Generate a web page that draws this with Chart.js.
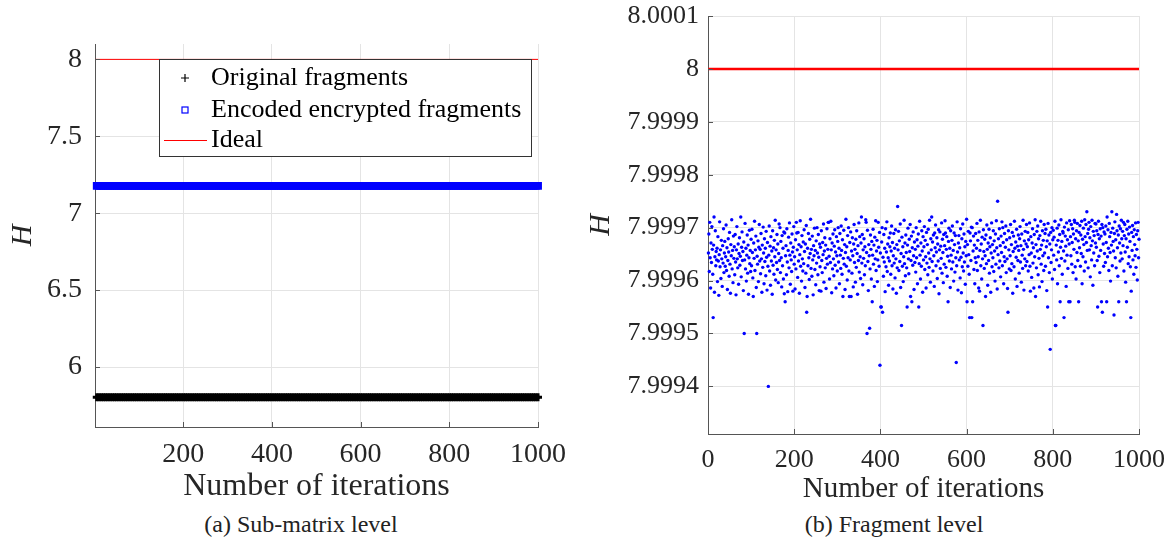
<!DOCTYPE html>
<html><head><meta charset="utf-8">
<script src="https://cdn.jsdelivr.net/npm/chart.js@4.4.1/dist/chart.umd.min.js"></script>
<style>
body{margin:0;background:#fff;width:1172px;height:545px;position:relative;overflow:hidden;font-family:"Liberation Serif","Times New Roman",serif}
canvas{position:absolute;top:0}
#ca{left:0}
#cb{left:580px}
.cap{position:absolute;top:512px;line-height:24px;font-size:24px;color:#222;transform:translateX(-50%);white-space:nowrap}
</style></head><body>
<canvas id="ca" width="580" height="510"></canvas>
<canvas id="cb" width="592" height="510"></canvas>
<div class="cap" style="left:301px">(a) Sub-matrix level</div>
<div class="cap" style="left:894px">(b) Fragment level</div>
<script>
const SERIF='"Liberation Serif","Times New Roman",serif';

// axis ticks
const xTicksA=[200,400,600,800,1000];
const yTicksA=[6,6.5,7,7.5,8], yLabelsA=['6','6.5','7','7.5','8'];
const xTicksB=[0,200,400,600,800,1000];
const yTicksB=[7.9994,7.9995,7.9996,7.9997,7.9998,7.9999,8,8.0001];
const yLabelsB=['7.9994','7.9995','7.9996','7.9997','7.9998','7.9999','8','8.0001'];

// (a) sub-matrix level, every 5th iteration
const sampleStep=5;
const origH=[
5.804,5.804,5.804,5.804,5.804,5.804,5.804,5.804,5.804,5.804,5.804,5.804,5.804,5.804,5.804,5.804,5.804,5.804,5.804,5.804,
5.804,5.804,5.804,5.804,5.804,5.804,5.804,5.804,5.804,5.804,5.804,5.804,5.804,5.804,5.804,5.804,5.804,5.804,5.804,5.804,
5.804,5.804,5.804,5.804,5.804,5.804,5.804,5.804,5.804,5.804,5.804,5.804,5.804,5.804,5.804,5.804,5.804,5.804,5.804,5.804,
5.804,5.804,5.804,5.804,5.804,5.804,5.804,5.804,5.804,5.804,5.804,5.804,5.804,5.804,5.804,5.804,5.804,5.804,5.804,5.804,
5.804,5.804,5.804,5.804,5.804,5.804,5.804,5.804,5.804,5.804,5.804,5.804,5.804,5.804,5.804,5.804,5.804,5.804,5.804,5.804,
5.804,5.804,5.804,5.804,5.804,5.804,5.804,5.804,5.804,5.804,5.804,5.804,5.804,5.804,5.804,5.804,5.804,5.804,5.804,5.804,
5.804,5.804,5.804,5.804,5.804,5.804,5.804,5.804,5.804,5.804,5.804,5.804,5.804,5.804,5.804,5.804,5.804,5.804,5.804,5.804,
5.804,5.804,5.804,5.804,5.804,5.804,5.804,5.804,5.804,5.804,5.804,5.804,5.804,5.804,5.804,5.804,5.804,5.804,5.804,5.804,
5.804,5.804,5.804,5.804,5.804,5.804,5.804,5.804,5.804,5.804,5.804,5.804,5.804,5.804,5.804,5.804,5.804,5.804,5.804,5.804,
5.804,5.804,5.804,5.804,5.804,5.804,5.804,5.804,5.804,5.804,5.804,5.804,5.804,5.804,5.804,5.804,5.804,5.804,5.804,5.804];
const encH=[
7.178,7.178,7.178,7.178,7.178,7.178,7.178,7.178,7.178,7.178,7.178,7.178,7.178,7.178,7.178,7.178,7.178,7.178,7.178,7.178,
7.178,7.178,7.178,7.178,7.178,7.178,7.178,7.178,7.178,7.178,7.178,7.178,7.178,7.178,7.178,7.178,7.178,7.178,7.178,7.178,
7.178,7.178,7.178,7.178,7.178,7.178,7.178,7.178,7.178,7.178,7.178,7.178,7.178,7.178,7.178,7.178,7.178,7.178,7.178,7.178,
7.178,7.178,7.178,7.178,7.178,7.178,7.178,7.178,7.178,7.178,7.178,7.178,7.178,7.178,7.178,7.178,7.178,7.178,7.178,7.178,
7.178,7.178,7.178,7.178,7.178,7.178,7.178,7.178,7.178,7.178,7.178,7.178,7.178,7.178,7.178,7.178,7.178,7.178,7.178,7.178,
7.178,7.178,7.178,7.178,7.178,7.178,7.178,7.178,7.178,7.178,7.178,7.178,7.178,7.178,7.178,7.178,7.178,7.178,7.178,7.178,
7.178,7.178,7.178,7.178,7.178,7.178,7.178,7.178,7.178,7.178,7.178,7.178,7.178,7.178,7.178,7.178,7.178,7.178,7.178,7.178,
7.178,7.178,7.178,7.178,7.178,7.178,7.178,7.178,7.178,7.178,7.178,7.178,7.178,7.178,7.178,7.178,7.178,7.178,7.178,7.178,
7.178,7.178,7.178,7.178,7.178,7.178,7.178,7.178,7.178,7.178,7.178,7.178,7.178,7.178,7.178,7.178,7.178,7.178,7.178,7.178,
7.178,7.178,7.178,7.178,7.178,7.178,7.178,7.178,7.178,7.178,7.178,7.178,7.178,7.178,7.178,7.178,7.178,7.178,7.178,7.178];
const idealIter=[1,1000], idealH=[8,8];

// (b) fragment level, iterations 1..1000
const fragH=[
7.999652,7.999688,7.999617,7.99971,7.999643,7.999586,7.999671,7.999634,7.999702,7.999659,7.999612,7.99953,7.999667,7.99972,7.999578,7.999645,7.999694,7.999628,7.999655,7.999639,
7.999661,7.999598,7.999683,7.999637,7.999572,7.999649,7.999711,7.999626,7.999658,7.999604,7.999676,7.999641,7.999589,7.999666,7.999633,7.999698,7.999615,7.999652,7.999674,7.999627,
7.999645,7.999705,7.999619,7.999662,7.999583,7.999638,7.999679,7.999654,7.999608,7.999691,7.999631,7.999576,7.999668,7.999647,7.999715,7.999622,7.999657,7.999596,7.999684,7.999642,
7.999664,7.999611,7.999687,7.999635,7.999573,7.999658,7.999702,7.999641,7.999624,7.999669,7.999593,7.999651,7.999681,7.999629,7.999646,7.99972,7.999607,7.999663,7.999692,7.999638,
7.999655,7.999581,7.999673,7.9995,7.999639,7.999708,7.999622,7.999661,7.999599,7.999648,7.999686,7.999614,7.999667,7.999574,7.999643,7.999695,7.999632,7.999657,7.999617,7.999678,
7.999628,7.999697,7.999653,7.999605,7.99957,7.999671,7.999642,7.999712,7.999619,7.999658,7.999684,7.999587,7.9995,7.999646,7.999631,7.999675,7.999598,7.999663,7.999706,7.999637,
7.999659,7.999613,7.999689,7.999641,7.999578,7.999667,7.999625,7.999701,7.999652,7.999594,7.999679,7.999636,7.999661,7.999609,7.999693,7.999644,7.999582,7.999672,7.999627,7.9994,
7.999648,7.999703,7.999618,7.999665,7.999591,7.999683,7.999637,7.999656,7.999574,7.999694,7.999629,7.999662,7.999612,7.999676,7.999645,7.999714,7.999601,7.999658,7.999634,7.999687,
7.999621,7.999669,7.999596,7.999651,7.999707,7.999638,7.9997,7.999615,7.999674,7.999643,7.999588,7.999685,7.999628,7.999661,7.999603,7.999692,7.999575,7.99969,7.99956,7.999647,
7.999666,7.999611,7.999698,7.999635,7.999579,7.999657,7.999682,7.999624,7.999709,7.999648,7.999593,7.999671,7.999639,7.999617,7.999688,7.999654,7.99958,7.999663,7.999702,7.999631,
7.999645,7.999584,7.999677,7.999622,7.99971,7.99969,7.999658,7.999606,7.999691,7.999637,7.999668,7.999576,7.999649,7.999713,7.999627,7.999664,7.999599,7.999685,7.999641,7.999618,
7.999673,7.999632,7.999696,7.999655,7.999587,7.999669,7.999614,7.999704,7.99954,7.99957,7.999661,7.999628,7.999689,7.999643,7.999602,7.999678,7.999651,7.999716,7.999623,7.999659,
7.999608,7.999684,7.999639,7.999573,7.999666,7.999647,7.999699,7.999621,7.999657,7.999592,7.999675,7.999633,7.9997,7.999652,7.999611,7.999687,7.999644,7.999581,7.999669,7.999626,
7.999663,7.99958,7.999694,7.999638,7.999615,7.999672,7.999649,7.999707,7.999597,7.999656,7.999681,7.999624,7.999667,7.999585,7.999642,7.999698,7.999631,7.999659,7.99971,7.99971,
7.999646,7.999603,7.999679,7.999634,7.999712,7.999658,7.999577,7.999671,7.999622,7.999688,7.999641,7.999609,7.999665,7.999696,7.999629,7.999654,7.999586,7.999683,7.999647,7.999618,
7.999674,7.9997,7.999635,7.999661,7.999594,7.999689,7.999648,7.999623,7.999703,7.999657,7.999612,7.999677,7.99957,7.999642,7.999695,7.999631,7.999668,7.999583,7.999653,7.999716,
7.999627,7.999664,7.999601,7.999685,7.999643,7.9997,7.999618,7.99957,7.999672,7.999639,7.999692,7.99957,7.999656,7.999614,7.999681,7.999647,7.999588,7.999669,7.999706,7.999634,
7.999659,7.999597,7.999678,7.999625,7.999694,7.999651,7.999574,7.999666,7.999638,7.999709,7.999616,7.999683,7.999645,7.999604,7.999671,7.99972,7.999633,7.999687,7.999592,7.999658,
7.999642,7.999679,7.999611,7.999664,7.999628,7.999715,7.99971,7.999653,7.9995,7.999695,7.999636,7.999581,7.999668,7.999647,7.99951,7.999622,7.999686,7.999659,7.999603,7.999674,
7.99956,7.999648,7.999697,7.999631,7.999667,7.999589,7.999682,7.999641,7.999713,7.999619,7.999656,7.999676,7.999598,7.999639,7.99971,7.999663,7.999627,7.999691,7.99944,7.999652,
7.99955,7.99955,7.999673,7.9997,7.99954,7.999644,7.999608,7.999687,7.999635,7.999661,7.999579,7.999698,7.999626,7.999654,7.999711,7.999617,7.999669,7.999643,7.999591,7.999681,
7.999637,7.999664,7.99969,7.999612,7.999656,7.999703,7.999628,7.999672,7.999584,7.999647,7.999689,7.999633,7.999661,7.999605,7.999696,7.999641,7.999576,7.999668,7.999624,7.99974,
7.999658,7.999693,7.999619,7.999675,7.999636,7.999707,7.999587,7.999651,7.999515,7.999682,7.999627,7.999664,7.999598,7.999645,7.999714,7.999632,7.999671,7.999609,7.999686,7.999653,
7.999624,7.99955,7.999667,7.999699,7.999641,7.999613,7.999678,7.999655,7.999706,7.99957,7.999638,7.999684,7.99956,7.999662,7.999629,7.999692,7.999647,7.999583,7.999673,7.999634,
7.999659,7.999616,7.9997,7.999643,7.999677,7.999594,7.999665,7.999688,7.99955,7.999632,7.999712,7.999648,7.999603,7.999671,7.999627,7.999694,7.999656,7.999578,7.999683,7.999639,
7.999664,7.999702,7.999621,7.999676,7.999645,7.999586,7.999691,7.999633,7.999668,7.999611,7.999697,7.999652,7.999625,7.999714,7.999641,7.999597,7.999679,7.999658,7.99972,7.999636,
7.999673,7.999618,7.999686,7.999647,7.999589,7.99969,7.999662,7.999705,7.999628,7.999654,7.999681,7.999604,7.999669,7.999637,7.999696,7.999575,7.999658,7.999692,7.999623,7.999665,
7.999642,7.999709,7.999614,7.999678,7.999653,7.999596,7.999687,7.999631,7.999666,7.999713,7.99969,7.999625,7.999659,7.999683,7.999608,7.999646,7.99956,7.999674,7.999699,7.999637,
7.999661,7.999587,7.999694,7.999648,7.999622,7.999676,7.999703,7.999635,7.999657,7.999599,7.99969,7.999668,7.999616,7.999685,7.999643,7.999445,7.999628,7.999711,7.999654,7.999582,
7.999671,7.999685,7.999639,7.999662,7.999605,7.999698,7.999644,7.999577,7.999679,7.999626,7.999707,7.999652,7.999618,7.999688,7.999635,7.999664,7.999593,7.999674,7.999647,7.999716,
7.99956,7.999668,7.999627,7.999693,7.999649,7.999612,7.99953,7.99969,7.999675,7.999638,7.999701,7.99953,7.9997,7.99956,7.999656,7.999684,7.999621,7.999667,7.999594,7.999643,
7.999689,7.999634,7.999661,7.999708,7.999619,7.999676,7.999645,7.999586,7.999692,7.99958,7.999657,7.999714,7.999628,7.999669,7.999603,7.999682,7.999641,7.999515,7.999696,7.999655,
7.999623,7.999678,7.999647,7.99957,7.999686,7.999632,7.999705,7.999659,7.999591,7.999671,7.999638,7.999697,7.999614,7.999664,7.999681,7.999578,7.999652,7.999709,7.999626,7.999668,
7.999643,7.999694,7.999617,7.999675,7.999656,7.999599,7.999688,7.999631,7.999713,7.999662,7.999584,7.99975,7.999649,7.999679,7.999624,7.999698,7.999637,7.999666,7.999607,7.999684,
7.999653,7.999711,7.999628,7.9997,7.999672,7.999594,7.999645,7.999689,7.999636,7.999663,7.999703,7.999615,7.999677,7.999641,7.999585,7.99954,7.999694,7.999658,7.999622,7.999681,
7.999647,7.999706,7.999619,7.999668,7.999632,7.999691,7.999576,7.999655,7.999684,7.999626,7.999712,7.999661,7.999603,7.999673,7.999644,7.999697,7.999589,7.999665,7.999638,7.999686,
7.999657,7.999614,7.999679,7.999702,7.999635,7.999666,7.999597,7.999688,7.999648,7.999623,7.999714,7.999659,7.999582,7.999675,7.999641,7.999693,7.999628,7.999669,7.999706,7.999636,
7.999664,7.999691,7.999618,7.999677,7.999649,7.999709,7.999627,7.99958,7.999683,7.999652,7.999606,7.999671,7.999698,7.999633,7.999662,7.999586,7.999687,7.999645,7.999715,7.99957,
7.999668,7.999624,7.999693,7.999656,7.999703,7.999611,7.999679,7.999642,7.999588,7.999685,7.999659,7.999712,7.999631,7.999667,7.999598,7.999694,7.999647,7.999676,7.999619,7.999706,
7.999652,7.999689,7.999627,7.999697,7.999664,7.999581,7.999675,7.99955,7.999708,7.999643,7.999686,7.999615,7.999669,7.99947,7.999691,7.999634,7.999658,7.9997,7.999603,7.999677,
7.999695,7.999648,7.999682,7.999621,7.999712,7.999515,7.999515,7.999667,7.999639,7.999699,7.999594,7.999676,7.999654,7.999705,7.999628,7.999687,7.99956,7.999663,7.999715,7.999642,
7.999674,7.999612,7.999693,7.99969,7.999656,7.99953,7.999701,7.999637,7.999684,7.999665,7.999589,7.999709,7.999648,7.999677,7.999623,7.999696,7.99956,7.999669,7.999713,7.99956,
7.999683,7.999647,7.999706,7.999631,7.999672,7.999698,7.999615,7.999688,7.999659,7.999714,7.99971,7.999626,7.999679,7.999603,7.999694,7.999653,7.999708,7.999638,7.999675,7.99956,
7.999691,7.999662,7.999704,7.999627,7.999686,7.999651,7.999712,7.999594,7.999678,7.999645,7.999699,7.999668,7.999618,7.999715,7.999683,7.999635,7.999706,7.999672,7.99973,7.999657,
7.999689,7.999624,7.999697,7.99971,7.999658,7.999681,7.999607,7.999702,7.999666,7.999639,7.999714,7.999675,7.999591,7.999693,7.999652,7.999685,7.999628,7.999708,7.999671,7.999707,
7.999663,7.999694,7.999638,7.99955,7.999687,7.999712,7.999646,7.999679,7.999615,7.999698,7.999657,7.999684,7.99956,7.999706,7.99954,7.9997,7.999669,7.999627,7.999692,7.999651,
7.999688,7.999634,7.999703,7.999672,7.99956,7.99972,7.999645,7.999696,7.999661,7.999619,7.999708,7.999683,7.999653,7.999599,7.999691,7.999667,7.99973,7.999628,7.999699,7.999674,
7.999656,7.999535,7.999689,7.999711,7.999643,7.999677,7.999624,7.999725,7.999694,7.999662,7.999608,7.999686,7.99956,7.999703,7.999671,7.999637,7.999698,7.999652,7.999714,7.999679,
7.999641,7.999693,7.999666,7.99971,7.999618,7.999685,7.999706,7.999654,7.999597,7.999679,7.99956,7.999697,7.999663,7.999712,7.999632,7.999688,7.999645,7.999701,7.999674,7.999626,
7.99953,7.99958,7.999691,7.999657,7.999704,7.999639,7.999683,7.999612,7.999696,7.999668,7.999647,7.999709,7.999625,7.999687,7.999659,7.999601,7.999694,7.99971,7.999643,7.999678];

const tickPick=(vals,labels)=>({
  after:s=>{s.ticks=vals.map(v=>({value:v}))},
  cb:(v,i)=>labels?labels[i]:String(v)
});
// fixed axis box, no label overflow padding
const fixBox=(k,n)=>s=>{s[k]=n;s.paddingTop=0;s.paddingBottom=0;s.paddingLeft=0;s.paddingRight=0};

function makeScales(o){
  const xt=tickPick(o.xt), yt=tickPick(o.yt,o.yl);
  return {
    x:{type:'linear',min:o.xmin,max:1000,
      afterBuildTicks:xt.after, afterFit:fixBox('height',o.xh),
      ticks:{callback:xt.cb,font:{family:SERIF,size:o.fs},color:'#262626',padding:o.xpad,maxRotation:0,autoSkip:false},
      grid:{color:'#e4e4e4',drawTicks:false},
      border:{color:'#555',width:1},
      title:{display:true,text:'Number of iterations',font:{family:SERIF,size:o.ts},color:'#262626',padding:{top:0,bottom:o.tpad}}},
    y:{type:'linear',min:o.ymin,max:o.ymax,
      afterBuildTicks:yt.after, afterFit:fixBox('width',o.yw),
      ticks:{callback:yt.cb,font:{family:SERIF,size:o.fs},color:'#262626',padding:o.ypad,autoSkip:false},
      grid:{color:'#e4e4e4',drawTicks:false},
      border:{color:'#555',width:1},
      title:{display:true,text:'H',font:{family:SERIF,size:30,style:'italic'},color:'#262626',padding:{top:o.hpad,bottom:0}}}
  };
}

// MATLAB-style inward tick marks
const innerTicks={id:'innerTicks',afterDraw(c){
  const {ctx,chartArea:a,scales:{x,y}}=c;
  ctx.save();ctx.strokeStyle='#555';ctx.lineWidth=1;ctx.beginPath();
  x.ticks.forEach(t=>{const p=Math.round(x.getPixelForValue(t.value))+.5;ctx.moveTo(p,a.bottom);ctx.lineTo(p,a.bottom-5)});
  y.ticks.forEach(t=>{const p=Math.round(y.getPixelForValue(t.value))+.5;ctx.moveTo(a.left,p);ctx.lineTo(a.left+5,p)});
  ctx.stroke();ctx.restore();
}};

// boxed legend inside panel (a)
const boxLegend={id:'boxLegend',afterDraw(c){
  const ctx=c.ctx, ds=c.data.datasets;
  const bx=159, by=59, bw=372, bh=97, mx=185, tx=211, rows=[78,110,140];
  ctx.save();
  ctx.fillStyle='#fff';ctx.fillRect(bx,by,bw,bh);
  ctx.strokeStyle='#333';ctx.lineWidth=1;ctx.strokeRect(bx+.5,by+.5,bw,bh);
  ds.forEach((d,i)=>{
    const y=rows[i];
    ctx.beginPath();
    if(d.pointStyle==='cross'){ctx.strokeStyle=d.pointBorderColor;ctx.lineWidth=1.2;ctx.moveTo(mx-4,y);ctx.lineTo(mx+4,y);ctx.moveTo(mx,y-4);ctx.lineTo(mx,y+4);ctx.stroke();}
    else if(d.pointStyle==='rect'){ctx.strokeStyle=d.pointBorderColor;ctx.lineWidth=1.2;ctx.strokeRect(mx-3,y-3,6,6);}
    else {ctx.strokeStyle=d.borderColor;ctx.lineWidth=1;ctx.moveTo(164,y+.5);ctx.lineTo(207,y+.5);ctx.stroke();}
    ctx.fillStyle='#000';ctx.font='26px '+SERIF;ctx.textBaseline='middle';ctx.fillText(d.label,tx,y);
  });
  ctx.restore();
}};

Chart.defaults.animation=false;
Chart.defaults.responsive=false;
Chart.defaults.devicePixelRatio=1;

new Chart(document.getElementById('ca'),{
  type:'scatter',
  data:{datasets:[
    {label:'Original fragments',data:origH.map((h,i)=>({x:(i+1)*sampleStep,y:h})),pointStyle:'cross',pointRadius:4,pointBorderColor:'#000',pointBorderWidth:3,clip:false},
    {label:'Encoded encrypted fragments',data:encH.map((h,i)=>({x:(i+1)*sampleStep,y:h})),pointStyle:'rect',pointRadius:4.5,pointBorderColor:'#0000ff',pointBackgroundColor:'#0000ff',pointBorderWidth:1.5,clip:false},
    {label:'Ideal',type:'line',data:idealIter.map((x,i)=>({x,y:idealH[i]})),borderColor:'#ff0000',borderWidth:1,pointRadius:0,showLine:true}
  ]},
  options:{
    layout:{padding:{left:0,top:44,right:42,bottom:0}},
    plugins:{legend:{display:false},tooltip:{enabled:false}},
    scales:makeScales({xmin:1,xt:xTicksA,yt:yTicksA,yl:yLabelsA,ymin:5.61,ymax:8.1,xh:83,yw:95,fs:28,ts:32,xpad:11,ypad:13,tpad:4,hpad:5})
  },
  plugins:[innerTicks,boxLegend]
});

new Chart(document.getElementById('cb'),{
  type:'scatter',
  data:{datasets:[
    {label:'Encoded encrypted fragments',data:fragH.map((h,i)=>({x:i+1,y:h})),pointStyle:'circle',pointRadius:1.7,pointBorderWidth:0,pointBackgroundColor:'#0000ff',clip:false},
    {label:'Ideal',type:'line',data:idealIter.map((x,i)=>({x,y:idealH[i]})),borderColor:'#ff0000',borderWidth:2.5,pointRadius:0,showLine:true}
  ]},
  options:{
    layout:{padding:{left:0,top:16,right:33,bottom:0}},
    plugins:{legend:{display:false},tooltip:{enabled:false}},
    scales:makeScales({xmin:0,xt:xTicksB,yt:yTicksB,yl:yLabelsB,ymin:7.99931,ymax:8.0001,xh:76,yw:128,fs:26,ts:29,xpad:11,ypad:9,tpad:3,hpad:3})
  },
  plugins:[innerTicks]
});
</script>
</body></html>
